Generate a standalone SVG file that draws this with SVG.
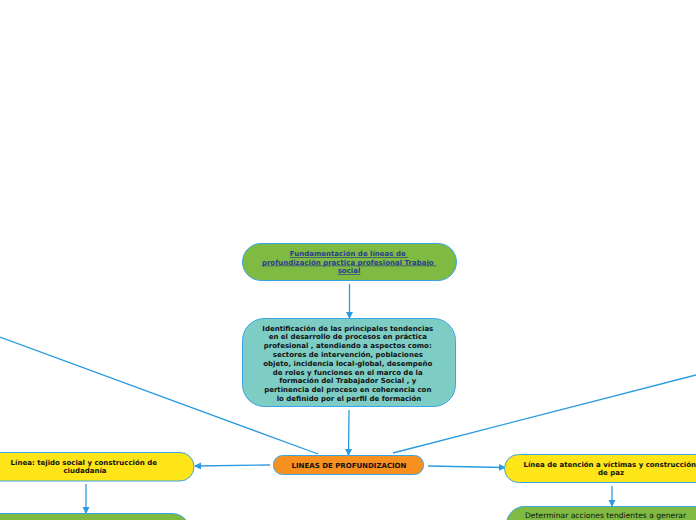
<svg xmlns="http://www.w3.org/2000/svg" width="696" height="520" viewBox="0 0 696 520">
<defs>
<marker id="ah" markerWidth="8" markerHeight="8" refX="6" refY="4" orient="auto" markerUnits="userSpaceOnUse">
<path d="M0,0.5 L7,4 L0,7.5 Z" fill="#2a9be0"/>
</marker>
<style>
.c{stroke:#2a9be0;stroke-width:1.3;fill:none}
.n{stroke:#3aa5e6;stroke-width:1}
.t{font-family:"DejaVu Sans",Verdana,sans-serif;font-weight:bold;font-size:7px;text-anchor:middle;fill:#111}
</style>
</defs>
<rect width="696" height="520" fill="#ffffff"/>
<g id="connectors">
<line class="c" x1="0" y1="337" x2="318" y2="454"/>
<line class="c" x1="393" y1="453" x2="696" y2="375"/>
<line class="c" x1="349.5" y1="284" x2="349.5" y2="318" marker-end="url(#ah)"/>
<line class="c" x1="349" y1="410" x2="348.5" y2="455" marker-end="url(#ah)"/>
<line class="c" x1="270" y1="465" x2="195" y2="466" marker-end="url(#ah)"/>
<line class="c" x1="428" y1="466" x2="505" y2="467.5" marker-end="url(#ah)"/>
<line class="c" x1="86" y1="484" x2="86" y2="513" marker-end="url(#ah)"/>
<line class="c" x1="612" y1="486" x2="612" y2="506" marker-end="url(#ah)"/>
</g>
<g id="node-fundamentacion">
<rect class="n" x="242.5" y="243.5" width="214" height="37" rx="18.5" fill="#7fba42"/>
<text class="t" style="fill:#2c3d8f;text-decoration:underline">
<tspan x="349" y="256">Fundamentación de líneas de</tspan>
<tspan x="349" y="264.5">profundización practica profesional Trabajo</tspan>
<tspan x="349" y="273">social</tspan>
</text>
</g>
<g id="node-identificacion">
<rect class="n" x="242.5" y="318.5" width="213" height="88" rx="22" fill="#7ecdc4"/>
<text class="t">
<tspan x="349" y="330.5">Identificación de las principales tendencias</tspan>
<tspan x="349" y="339.3">en el desarrollo de procesos en práctica</tspan>
<tspan x="349" y="348.1">profesional , atendiendo a aspectos como:</tspan>
<tspan x="349" y="356.9">sectores de intervención, poblaciones</tspan>
<tspan x="349" y="365.7">objeto, incidencia local-global, desempeño</tspan>
<tspan x="349" y="374.5">de roles y funciones en el marco de la</tspan>
<tspan x="349" y="383.3">formación del Trabajador Social , y</tspan>
<tspan x="349" y="392.1">pertinencia del proceso en coherencia con</tspan>
<tspan x="349" y="400.9">lo definido por el perfil de formación</tspan>
</text>
</g>
<g id="node-lineas">
<rect class="n" x="273.5" y="455.5" width="150" height="19" rx="9" fill="#f7901e"/>
<text class="t" x="349" y="467.5">LINEAS DE PROFUNDIZACION</text>
</g>
<g id="node-tejido">
<rect class="n" x="-30" y="452.5" width="224" height="28.5" rx="14" fill="#fde51a"/>
<text class="t">
<tspan x="85" y="464.5">Línea: tejido social y construcción de</tspan>
<tspan x="85" y="473.3">ciudadanía</tspan>
</text>
</g>
<g id="node-tejido-child">
<rect class="n" x="-30" y="513.5" width="220" height="40" rx="18" fill="#7fba42"/>
</g>
<g id="node-victimas">
<rect class="n" x="504.5" y="454.5" width="230" height="28" rx="14" fill="#fde51a"/>
<text class="t">
<tspan x="611" y="466.5">Línea de atención a víctimas y construcción</tspan>
<tspan x="611" y="475.3">de paz</tspan>
</text>
</g>
<g id="node-victimas-child">
<rect class="n" x="506.5" y="506.5" width="230" height="40" rx="18" fill="#7fba42"/>
<text class="t" style="font-weight:normal;text-anchor:start;font-size:7.6px" x="525" y="518">Determinar acciones tendientes a generar</text>
</g>
</svg>
